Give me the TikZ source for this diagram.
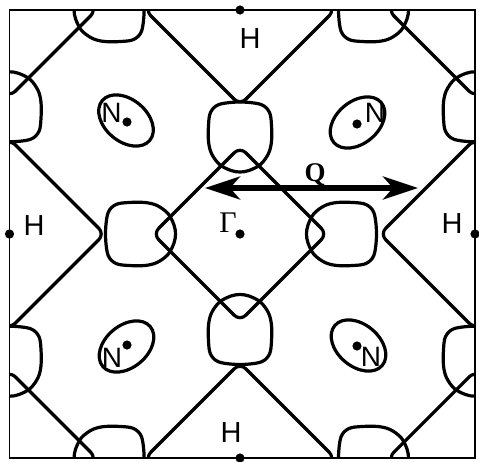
\documentclass[tikz,border=0pt]{standalone}
\usepackage{fontspec}
\newfontfamily\lsans{Liberation Sans}
\newfontfamily\lserif{Liberation Serif}
\usetikzlibrary{arrows.meta}
\begin{document}
\begin{tikzpicture}[x=1pt,y=-1pt,
  fs/.style={line width=3.2pt, line join=round},
  lbl/.style={font=\lsans\fontsize{29}{29}\selectfont, inner sep=0pt},
  nlbl/.style={font=\lsans\fontsize{28}{28}\selectfont, inner sep=0pt},
  pocket/.pic={\draw[fs] plot[smooth cycle, tension=0.55] coordinates {(0,-35.5) (-21,-33) (-29.5,-25) (-31.5,-12) (-31.5,4) (-28.5,16) (-20.5,27) (-9,33) (0,34.5) (9,33) (20.5,27) (28.5,16) (31.5,4) (31.5,-12) (29.5,-25) (21,-33)};},
  gdia/.pic={\draw[fs, rounded corners=8pt] (43.5,-43.5) -- (0,-87) -- (-87,0) -- (0,87) -- (87,0) -- cycle;},
  hdia/.pic={\draw[fs, rounded corners=8pt] (47.5,-47.5) -- (0,-95) -- (-95,0) -- (0,95) -- (95,0) -- cycle;},
  arr/.tip={Stealth[length=35pt,width=23pt,inset=10pt]}
]
\useasboundingbox (0,0) rectangle (479,461);
% key points
\coordinate (G) at (240,234);
\coordinate (G1) at (9.5,10);
\coordinate (G2) at (475,10);
\coordinate (G3) at (9.5,458);
\coordinate (G4) at (475,458);
\coordinate (Ht) at (240,10);
\coordinate (Hb) at (240,458);
\coordinate (Hl) at (9.5,234);
\coordinate (Hr) at (475,234);
\coordinate (N1) at (127,122);
\coordinate (N2) at (357,124);
\coordinate (N3) at (127,345);
\coordinate (N4) at (357,346);
\begin{scope}
  \clip (9.5,10) rectangle (475,458);
  % Gamma-centred diamonds
  \pic (dG) at (G) {gdia};
  \pic (dG1) at (G1) {gdia};
  \pic (dG2) at (G2) {gdia};
  \pic (dG3) at (G3) {gdia};
  \pic (dG4) at (G4) {gdia};
  % H-centred diamonds
  \pic (dHt) at (Ht) {hdia};
  \pic (dHb) at (Hb) {hdia};
  \pic (dHl) at (Hl) {hdia};
  \pic (dHr) at (Hr) {hdia};
  % pockets around Gamma
  \pic (pT) at (240,137.5) {pocket};
  \pic[rotate=180] (pB) at (240,329) {pocket};
  \pic[rotate=90] (pL) at (141,234) {pocket};
  \pic[rotate=-90] (pR) at (341,234) {pocket};
  % pockets on the edges
  \pic[rotate=-90] (pE1) at (108.6,10) {pocket};
  \pic[rotate=90] (pE2) at (374,10) {pocket};
  \pic[rotate=-90] (pE3) at (108.6,458) {pocket};
  \pic[rotate=90] (pE4) at (374,458) {pocket};
  \pic[rotate=180] (pE5) at (9.5,106.3) {pocket};
  \pic (pE6) at (9.5,361.7) {pocket};
  \pic[rotate=180] (pE7) at (475,106.3) {pocket};
  \pic (pE8) at (475,361.7) {pocket};
  % N ellipses
  \draw[fs, rotate around={-40:(126,120.5)}] (126,120.5) ellipse [x radius=31pt, y radius=21pt];
  \draw[fs, rotate around={40:(357.5,122.5)}] (357.5,122.5) ellipse [x radius=31pt, y radius=21pt];
  \draw[fs, rotate around={40:(126.5,346.5)}] (126.5,346.5) ellipse [x radius=31pt, y radius=21pt];
  \draw[fs, rotate around={-40:(358.5,345.5)}] (358.5,345.5) ellipse [x radius=31pt, y radius=21pt];
\end{scope}
% frame
\draw[line width=1.4pt] (G1) rectangle (G4);
% dots
\foreach \p in {G,Ht,Hb,Hl,Hr,N1,N2,N3,N4} \fill (\p) circle (4.6pt);
% nesting vector
\coordinate (qL) at (205,188);
\coordinate (qR) at (418,188);
\draw[line width=5.5pt, {arr}-{arr}] (qL) -- (qR);
% labels
\node[lbl] (lHt) at (250,39) {H};
\node[lbl] (lHb) at (231,433) {H};
\node[lbl] (lHl) at (34,226) {H};
\node[lbl] (lHr) at (452,224) {H};
\node[nlbl] (lN1) at (111.5,112.5) {N};
\node[nlbl] (lN2) at (375,113) {N};
\node[nlbl] (lN3) at (112,358) {N};
\node[nlbl] (lN4) at (371,357) {N};
\node[font=\lserif\fontsize{30}{30}\selectfont, inner sep=0pt] (lG) at (228,223) {Γ};
\node[font=\lserif\bfseries\fontsize{27}{27}\selectfont, inner sep=0pt, anchor=base] (lQ) at (315,181) {Q};
\end{tikzpicture}
\end{document}
